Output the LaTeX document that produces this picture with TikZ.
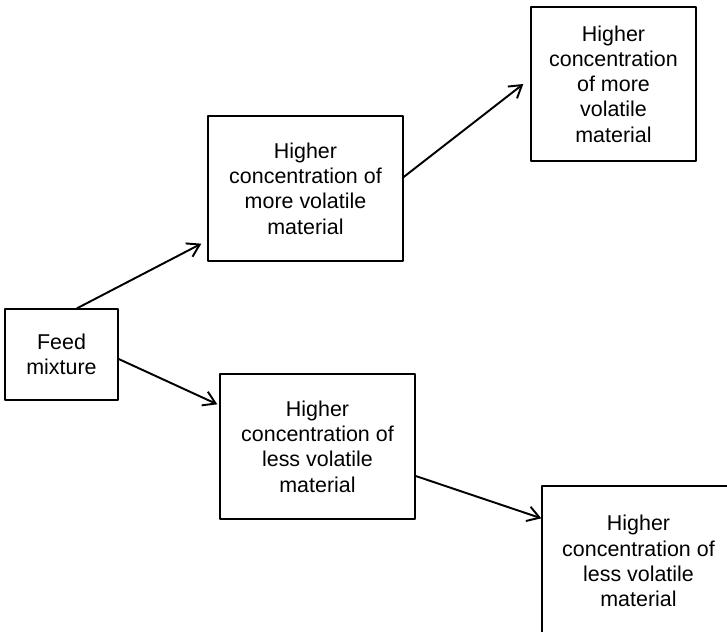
\documentclass[tikz,border=0pt]{standalone}
\usepackage{fontspec}
\setmainfont{Liberation Sans}
\usetikzlibrary{arrows.meta}
\begin{document}
\begin{tikzpicture}[x=0.02cm,y=-0.02cm,line join=round,line cap=round,>={Straight Barb[length=2.4mm,width=3mm]},
		hop/.style={draw,line width=0.8pt,align=center,inner sep=0pt,font=\fontsize{12.2}{14.4}\selectfont},
		mui/.style={->,line width=1.1pt}]
		\useasboundingbox (0,0) rectangle (727,632);
		\clip (0,0) rectangle (727,632);
		% Hỗn hợp đầu vào
		\node[hop,minimum width=2.26cm,minimum height=1.82cm] (feed) at (61.5,354.5) {Feed\\mixture};
		% Tầng thứ nhất
		\node[hop,minimum width=3.9cm,minimum height=2.9cm] (more1) at (305.5,188.5) {Higher\\concentration of\\more volatile\\material};
		\node[hop,minimum width=3.9cm,minimum height=2.9cm] (less1) at (317.5,446.5) {Higher\\concentration of\\less volatile\\material};
		% Tầng thứ hai
		\node[hop,minimum width=3.3cm,minimum height=3.08cm] (more2) at (613.5,84) {Higher\\concentration\\of more\\volatile\\material};
		\node[hop,minimum width=3.86cm,minimum height=3cm] (less2) at (638.5,561) {Higher\\concentration of\\less volatile\\material};
		% Mũi tên
		\draw[mui] ([shift={(15.5,0)}]feed.north) -- ([shift={(-6,-18)}]more1.south west);
		\draw[mui] ([shift={(0,4.5)}]feed.east) -- ([shift={(-2,31)}]less1.north west);
		\draw[mui] ([shift={(0,-11.5)}]more1.east) -- ([shift={(-7,0)}]more2.west);
		\draw[mui] ([shift={(0,29.5)}]less1.east) -- ([shift={(0,33)}]less2.north west);
	\end{tikzpicture}
\end{document}
